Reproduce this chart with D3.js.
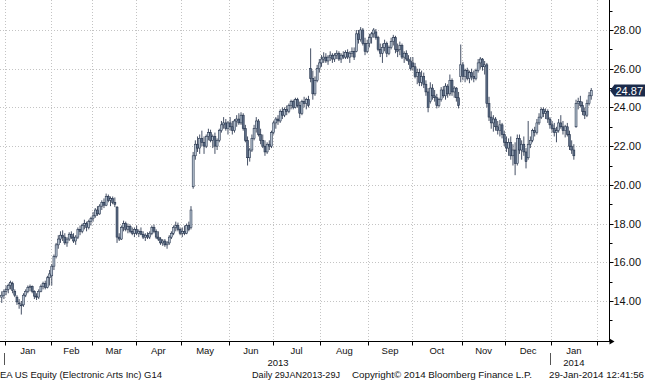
<!DOCTYPE html>
<html><head><meta charset="utf-8">
<script src="https://cdn.jsdelivr.net/npm/d3@7"></script>
<style>
body{margin:0;background:#fff}
svg{display:block}
text{font-family:"Liberation Sans",Arial,sans-serif;fill:#111}
</style>
</head><body>
<svg id="chart" width="645" height="380"></svg>
<script>
// ---------- data ----------
const monthLabels = ["Jan","Feb","Mar","Apr","May","Jun","Jul","Aug","Sep","Oct","Nov","Dec","Jan"];
const monthTradingDays = [21,19,20,21,22,20,22,22,20,23,20,21,21];
const leadDays = 2; // sessions of Dec 2012 shown before January
const yearLabels = ["2013","2014"];
const yTicks = [14,16,18,20,22,24,26,28];
const yMinorTicks = [13,15,17,19,21,23,25,27,29];
const lastPrice = 24.87;

const opens = [
 14.2,14.3,
 14.5,14.6,14.8,14.9,14.5,14.2,13.9,13.8,13.8,14.3,14.5,14.7,14.75,14.5,14.25,14.2,14.5,14.75,14.9,14.7,15.2,
 15.3,15.8,16.3,16.9,17.2,17.4,17.3,17.0,17.2,17.45,17.3,17.1,17.3,17.7,17.6,17.9,18.0,17.8,18.1,
 18.25,18.4,18.7,18.5,18.9,19.1,18.95,19.4,19.2,19.3,19.1,18.85,17.3,17.2,17.8,18.0,17.7,17.85,17.6,17.5,
 17.7,17.5,17.6,17.45,17.3,17.4,17.3,17.5,17.8,17.6,17.3,17.2,17.0,17.1,16.9,17.0,17.3,17.5,17.8,17.9,17.7,
 17.5,17.6,17.5,17.9,17.8,19.9,21.5,22.1,21.9,22.4,22.2,22.0,22.5,22.7,22.3,22.5,22.0,22.3,22.8,23.1,23.2,22.9,
 23.2,23.0,22.8,23.3,23.4,23.2,23.6,22.9,22.3,21.4,21.8,22.4,22.9,23.3,22.6,22.3,22.0,21.7,22.1,22.0,
 22.7,23.2,23.4,23.3,23.8,23.6,23.9,23.8,24.1,24.3,24.0,24.4,24.1,23.7,24.3,24.2,24.4,26.0,25.5,24.7,25.4,26.0,
 26.3,26.5,26.6,26.4,26.6,26.7,26.5,26.7,26.8,26.5,26.7,26.6,26.85,26.6,26.8,26.9,26.9,27.8,27.5,28.0,27.3,26.9,
 27.3,27.6,27.8,27.9,27.6,27.0,26.8,27.1,27.3,26.8,27.1,27.4,27.6,27.0,27.0,27.2,26.6,26.8,26.5,26.4,
 26.3,26.1,25.6,25.8,25.3,25.6,25.2,24.8,24.3,25.0,24.6,24.5,24.1,24.4,24.9,24.6,25.1,24.7,25.4,24.8,25.0,24.5,25.6,
 26.2,25.6,25.9,25.5,25.8,25.6,25.5,25.9,26.3,26.5,26.1,26.2,24.2,23.5,23.2,23.4,23.0,22.8,23.1,22.6,
 22.2,21.9,22.2,21.5,21.8,21.1,22.4,21.8,22.1,21.7,21.4,22.1,22.3,22.8,22.7,23.2,23.5,23.9,23.7,23.8,23.4,
 23.1,22.9,22.7,22.8,23.2,23.0,22.8,23.0,22.6,22.0,21.8,23.0,24.2,24.3,24.1,23.8,23.6,24.2,24.6
];
const highs = [
 14.5,14.6,
 14.8,14.9,15.05,15.0,14.6,14.3,14.1,14.0,14.4,14.6,14.8,14.85,14.8,14.55,14.4,14.6,14.85,15.0,15.05,15.3,15.6,
 15.9,16.4,17.0,17.4,17.6,17.65,17.5,17.3,17.55,17.6,17.5,17.4,17.8,17.9,18.0,18.2,18.1,18.2,18.35,
 18.6,18.8,18.9,19.0,19.2,19.3,19.55,19.5,19.4,19.4,19.35,18.9,17.5,17.9,18.15,18.1,18.0,17.95,17.8,17.8,
 17.9,17.7,17.8,17.6,17.5,17.55,17.6,17.9,17.95,17.7,17.6,17.3,17.2,17.2,17.1,17.4,17.6,17.9,18.1,18.05,17.8,
 17.8,17.9,18.0,18.1,18.9,21.7,22.3,22.5,22.6,22.8,22.5,22.6,22.9,22.85,22.6,22.7,22.4,22.9,23.3,23.5,23.4,23.3,
 23.5,23.3,23.4,23.6,23.7,23.75,23.7,23.1,22.5,21.9,22.6,23.1,23.5,23.4,22.9,22.6,22.3,22.2,22.3,22.8,
 23.3,23.5,23.6,23.9,24.0,24.0,24.1,24.2,24.4,24.4,24.5,24.5,24.3,24.4,24.55,24.5,24.6,27.05,25.9,25.6,26.2,26.5,
 26.7,26.85,26.8,26.7,26.9,26.8,26.8,26.95,26.9,26.8,26.9,26.95,27.0,26.9,27.1,27.1,28.0,28.0,28.15,28.1,27.6,27.5,
 27.8,27.9,28.1,28.05,27.7,27.3,27.3,27.5,27.4,27.2,27.6,27.75,27.7,27.3,27.4,27.3,26.9,26.95,26.7,26.6,
 26.6,26.3,26.0,26.0,25.9,25.8,25.4,25.0,25.3,25.2,24.9,24.7,24.5,25.05,25.1,25.25,25.2,25.7,25.5,25.1,25.05,24.8,27.25,
 26.35,26.0,26.05,25.9,26.0,25.9,26.0,26.5,26.6,26.55,26.4,26.3,24.55,23.8,23.6,23.5,23.3,23.35,23.2,22.8,
 22.5,22.4,22.5,22.1,22.2,22.6,22.6,22.3,22.5,21.9,23.3,22.5,22.9,23.0,23.4,23.7,24.0,24.0,23.95,23.9,23.5,
 23.3,23.2,23.0,23.4,23.6,23.3,23.1,23.2,22.8,22.3,22.1,24.4,24.5,24.6,24.3,24.0,24.4,24.8,25.0
];
const lows = [
 13.9,14.1,
 14.3,14.4,14.6,14.4,14.2,13.8,13.6,13.3,13.7,14.2,14.4,14.5,14.4,14.1,14.05,14.1,14.45,14.6,14.6,14.65,14.8,
 14.8,15.6,16.2,16.7,17.0,17.1,16.9,16.8,17.1,17.2,17.0,16.9,17.2,17.4,17.5,17.7,17.6,17.7,17.9,
 18.1,18.3,18.4,18.45,18.7,18.8,18.9,19.1,18.9,19.0,18.85,17.0,17.1,17.15,17.6,17.6,17.5,17.5,17.4,17.3,
 17.4,17.3,17.4,17.2,17.1,17.2,17.2,17.4,17.5,17.2,17.1,16.9,16.85,16.8,16.7,16.9,17.2,17.4,17.6,17.6,17.4,
 17.3,17.4,17.45,17.6,17.7,19.8,21.3,21.7,21.6,22.0,21.6,21.9,22.3,22.2,21.9,21.6,21.8,22.2,22.7,22.9,22.8,22.6,
 22.8,22.6,22.7,23.0,23.1,23.1,22.8,22.2,21.0,21.2,21.7,22.3,22.7,22.5,22.1,21.9,21.5,21.6,21.8,21.9,
 22.6,22.9,23.1,23.2,23.4,23.5,23.6,23.7,23.9,23.9,23.95,24.0,23.45,23.6,24.0,23.9,24.0,25.3,24.4,24.6,25.3,25.8,
 26.1,26.3,26.3,26.2,26.4,26.3,26.35,26.5,26.4,26.3,26.5,26.5,26.5,26.3,26.6,26.45,26.85,27.3,27.4,27.2,26.7,26.8,
 27.1,27.3,27.6,27.5,26.9,26.6,26.3,26.9,26.6,26.7,27.0,27.2,26.8,26.6,26.7,26.5,26.3,26.4,26.2,25.9,
 25.9,25.5,25.2,25.1,25.1,25.0,24.6,23.75,24.2,24.4,24.3,23.95,24.0,24.3,24.5,24.4,24.5,24.6,24.6,24.5,24.3,23.95,25.3,
 25.4,25.3,25.4,25.25,25.4,25.3,25.4,25.8,26.0,25.9,25.7,24.0,23.3,22.9,22.75,22.8,22.6,22.5,22.4,22.0,
 21.7,21.5,21.3,21.0,20.5,21.0,21.6,21.3,21.5,20.85,21.3,21.9,22.2,22.5,22.6,23.1,23.4,23.5,23.4,23.2,22.9,
 22.7,22.5,22.2,22.7,22.9,22.6,22.45,22.5,21.8,21.6,21.3,22.95,23.9,24.0,23.6,23.4,23.5,24.1,24.4
];
const closes = [
 14.3,14.5,
 14.6,14.8,14.95,14.55,14.3,13.95,13.85,13.75,14.3,14.5,14.7,14.75,14.5,14.25,14.2,14.5,14.75,14.9,14.7,15.2,15.4,
 15.8,16.3,16.9,17.2,17.4,17.3,17.0,17.2,17.45,17.3,17.1,17.3,17.7,17.6,17.9,18.0,17.8,18.1,18.25,
 18.4,18.7,18.5,18.9,19.1,18.95,19.4,19.2,19.3,19.1,19.0,17.3,17.2,17.8,18.0,17.7,17.85,17.6,17.5,17.7,
 17.5,17.6,17.45,17.3,17.4,17.3,17.5,17.8,17.6,17.3,17.2,17.0,17.1,16.9,17.0,17.3,17.5,17.8,17.9,17.7,17.5,
 17.6,17.5,17.9,17.7,18.7,21.5,22.1,21.9,22.4,22.2,22.0,22.5,22.7,22.3,22.5,22.0,22.3,22.8,23.1,23.2,22.9,23.2,
 23.0,22.8,23.3,23.4,23.2,23.6,22.9,22.3,21.4,21.8,22.4,22.9,23.3,22.6,22.3,22.0,21.7,22.1,22.0,22.7,
 23.2,23.4,23.3,23.8,23.6,23.9,23.8,24.1,24.3,24.0,24.4,24.1,23.7,24.3,24.2,24.4,24.1,25.5,24.7,25.4,26.0,26.3,
 26.5,26.6,26.4,26.6,26.7,26.5,26.7,26.8,26.5,26.7,26.6,26.85,26.6,26.8,26.9,26.6,27.8,27.5,28.0,27.3,26.9,27.3,
 27.6,27.8,28.0,27.6,27.0,26.8,27.1,27.3,26.8,27.1,27.4,27.6,27.0,26.9,27.2,26.6,26.8,26.5,26.4,26.0,
 26.1,25.6,25.8,25.3,25.6,25.2,24.8,24.0,25.0,24.6,24.5,24.1,24.4,24.9,24.6,25.1,24.7,25.4,24.8,25.0,24.5,24.1,26.2,
 25.6,25.9,25.5,25.8,25.6,25.5,25.9,26.3,26.5,26.1,26.2,24.2,23.5,23.2,23.4,23.0,22.8,23.1,22.6,22.2,
 21.9,22.2,21.5,21.8,21.1,22.4,21.8,22.1,21.7,21.2,22.1,22.3,22.8,22.7,23.2,23.5,23.9,23.7,23.8,23.4,23.1,
 22.9,22.7,22.8,23.2,23.0,22.8,23.0,22.6,22.0,21.8,21.5,24.2,24.3,24.1,23.8,23.6,24.2,24.6,24.87
];
const footerTexts = ["EA US Equity (Electronic Arts Inc) G14","Daily 29JAN2013-29J","Copyright\u00A9 2014 Bloomberg Finance L.P.","29-Jan-2014 12:41:56"];

// ---------- layout ----------
const W = 645, H = 380;
const axisX = 609.5, axisY = 341.5;
const dark = "#16253f";

const svg = d3.select("#chart");

// month boundaries in index space
const bounds = [leadDays - 0.5];
monthTradingDays.forEach(n => bounds.push(bounds[bounds.length-1] + n));

const x = d3.scaleLinear().domain([bounds[0], bounds[bounds.length-1]]).range([5, 596.7]);
const y = d3.scaleLinear().domain([14, 28]).range([301, 30]);

const data = opens.map((o,i) => ({i, o, h: highs[i], l: lows[i], c: closes[i]}));

// grid
const grid = svg.append("g").attr("stroke","#c4c4c4").attr("stroke-width",1).attr("stroke-dasharray","1,2");
grid.selectAll("line.h").data(yTicks).join("line")
  .attr("x1",0).attr("x2",axisX).attr("y1",d=>Math.round(y(d))+0.5).attr("y2",d=>Math.round(y(d))+0.5);
grid.selectAll("line.v").data(bounds).join("line")
  .attr("y1",0).attr("y2",axisY).attr("x1",d=>Math.round(x(d))+0.5).attr("x2",d=>Math.round(x(d))+0.5);

// candles
const cg = svg.append("g");
cg.selectAll("line.wick").data(data).join("line")
  .attr("x1",d=>x(d.i)).attr("x2",d=>x(d.i))
  .attr("y1",d=>y(d.h)).attr("y2",d=>y(d.l))
  .attr("stroke",dark).attr("stroke-width",0.8);
cg.selectAll("rect.body").data(data).join("rect")
  .attr("x",d=>x(d.i)-1).attr("width",2)
  .attr("y",d=>y(Math.max(d.o,d.c)))
  .attr("height",d=>Math.max(0.8, Math.abs(y(d.o)-y(d.c))))
  .attr("fill",d=> d.c>=d.o ? "#b3bfcd" : "#5d6d85")
  .attr("stroke",dark).attr("stroke-width",0.5);

// right axis
const ax = svg.append("g").attr("stroke","#000").attr("stroke-width",1);
ax.append("line").attr("x1",axisX).attr("x2",axisX).attr("y1",0).attr("y2",axisY+0.5);
ax.selectAll("line.maj").data(yTicks).join("line")
  .attr("x1",axisX).attr("x2",axisX+4).attr("y1",d=>Math.round(y(d))+0.5).attr("y2",d=>Math.round(y(d))+0.5);
ax.selectAll("line.min").data(yMinorTicks).join("line")
  .attr("x1",axisX).attr("x2",axisX+3).attr("y1",d=>Math.round(y(d))+0.5).attr("y2",d=>Math.round(y(d))+0.5);
svg.append("g").selectAll("text").data(yTicks).join("text")
  .attr("x",613.5).attr("y",d=>y(d)+4).attr("font-size",11)
  .text(d=>d3.format(".2f")(d));

// bottom axis
ax.append("line").attr("x1",0).attr("x2",axisX).attr("y1",axisY).attr("y2",axisY);
ax.selectAll("line.xt").data(bounds).join("line")
  .attr("x1",d=>Math.round(x(d))+0.5).attr("x2",d=>Math.round(x(d))+0.5)
  .attr("y1",axisY).attr("y2",axisY+4);
svg.append("path").attr("d",`M${axisX},${axisY-3}L${axisX+5},${axisY}L${axisX},${axisY+3}Z`).attr("fill","#000");

// month labels
svg.append("g").selectAll("text").data(monthLabels).join("text")
  .attr("x",(d,k)=>(x(bounds[k])+x(bounds[k+1]))/2).attr("y",354)
  .attr("text-anchor","middle").attr("font-size",9.5).text(d=>d);

// year labels and separators
const yearStarts = [0, 12];
const yearCenters = [(x(bounds[0])+x(bounds[12]))/2, (x(bounds[12])+x(bounds[13]))/2];
svg.append("g").selectAll("text").data(yearLabels).join("text")
  .attr("x",(d,k)=>yearCenters[k]).attr("y",366)
  .attr("text-anchor","middle").attr("font-size",9.5).text(d=>d);
svg.append("g").selectAll("line").data(yearStarts).join("line")
  .attr("x1",k=>Math.round(x(bounds[k]))-0.5).attr("x2",k=>Math.round(x(bounds[k]))-0.5)
  .attr("y1",353).attr("y2",365).attr("stroke","#555").attr("stroke-width",1);

// last price tag
const ly = y(lastPrice);
svg.append("path")
  .attr("d",`M${axisX+0.5},${ly}L${axisX+5},${ly-6}L${W},${ly-6}L${W},${ly+6}L${axisX+5},${ly+6}Z`)
  .attr("fill","#1b2b4b");
svg.append("text").attr("x",615.5).attr("y",ly+4).attr("font-size",11)
  .style("fill","#fff").text(d3.format(".2f")(lastPrice));

// footer
const footX = [0, 252, 352, 549];
const footW = [162, 88, 180, 95];
svg.append("g").selectAll("text").data(footerTexts).join("text")
  .attr("x",(d,k)=>footX[k]).attr("y",378).attr("font-size",9.5)
  .attr("textLength",(d,k)=>footW[k]).attr("lengthAdjust","spacingAndGlyphs")
  .text(d=>d);
</script>
</body></html>
